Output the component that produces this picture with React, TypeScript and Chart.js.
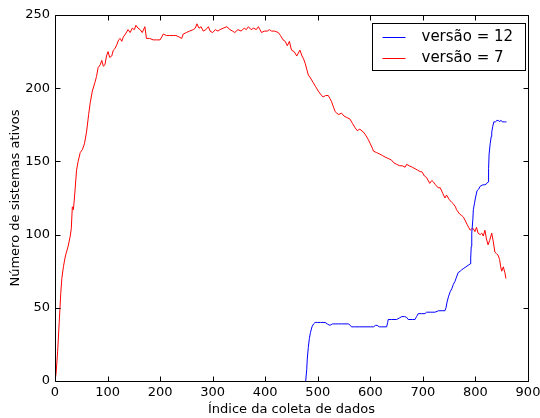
import React, { useEffect, useRef } from "react";
import { Chart, registerables } from "chart.js";

Chart.register(...registerables);

// versão = 7 (red)
const v7Index = [0, 2, 5, 8, 11, 13, 16, 19, 21, 25, 29, 31, 33, 35, 37, 41, 44, 48, 52, 56, 60, 64, 67, 71, 76, 79, 82, 86, 89, 92, 95, 98, 101, 104, 108, 111, 114, 118, 121, 124, 127, 130, 134, 139, 143, 147, 151, 154, 158, 162, 166, 171, 174, 180, 187, 193, 200, 203, 206, 212, 218, 225, 230, 236, 241, 244, 250, 256, 263, 267, 270, 274, 278, 282, 287, 292, 295, 300, 305, 310, 314, 320, 327, 333, 338, 342, 348, 354, 360, 364, 368, 373, 378, 383, 387, 390, 393, 398, 404, 408, 412, 418, 425, 429, 434, 438, 442, 446, 450, 455, 460, 463, 466, 470, 473, 476, 479, 482, 486, 491, 496, 501, 505, 510, 515, 520, 523, 526, 530, 533, 536, 540, 545, 550, 555, 561, 566, 571, 575, 580, 587, 591, 596, 600, 604, 606, 612, 618, 623, 628, 634, 640, 645, 650, 656, 661, 666, 669, 674, 680, 685, 690, 695, 698, 703, 707, 713, 717, 720, 724, 729, 733, 738, 742, 745, 750, 755, 758, 762, 764, 770, 774, 777, 780, 784, 787, 790, 793, 796, 799, 802, 805, 809, 812, 815, 818, 821, 824, 827, 831, 834, 837, 840, 843, 846, 848, 850, 853, 856, 858];
const v7Values = [0, 5, 20, 40, 60, 70, 78, 84, 87, 92, 99, 104, 119, 117, 125, 144, 150, 156, 158, 162, 170, 182, 190, 198, 204, 208, 214, 216, 219, 215, 216, 222, 225, 221, 222, 226, 227, 230, 233, 234, 232, 235, 237, 240, 238, 241, 240, 243, 241, 240, 238, 242, 234, 234, 233, 233, 233, 235, 237, 236, 236, 236, 236, 235, 234, 237, 238, 239, 240, 241, 244, 241, 242, 239, 240, 242, 239, 238, 240, 239, 240, 241, 242, 240, 239, 238, 240, 239, 241, 240, 242, 240, 241, 240, 242, 240, 238, 239, 239, 240, 239, 239, 238, 236, 233, 232, 229, 232, 226, 225, 222, 224, 226, 222, 220, 217, 213, 209, 207, 204, 201, 198, 196, 194, 195, 195, 193, 191, 187, 184, 183, 182, 183, 181, 180, 179, 176, 173, 171, 172, 170, 168, 165, 162, 159, 157, 156, 155, 154, 153, 152, 151, 149, 148, 147, 147, 146, 148, 147, 146, 145, 144, 143, 143, 140, 139, 135, 137, 136, 134, 132, 132, 128, 125, 127, 124, 122, 121, 119, 117, 114, 113, 112, 110, 107, 105, 103, 104, 104, 102, 105, 101, 100, 101, 99, 103, 97, 93, 96, 101, 95, 88, 87, 86, 83, 78, 75, 78, 74, 70];

// versão = 12 (blue)
const v12Index = [477, 479, 480, 482, 484, 486, 489, 492, 495, 500, 505, 510, 514, 518, 523, 528, 533, 540, 545, 550, 558, 562, 564, 570, 580, 590, 600, 606, 610, 613, 617, 622, 631, 633, 634, 640, 645, 650, 655, 660, 665, 669, 672, 680, 685, 688, 691, 697, 704, 707, 715, 723, 730, 738, 742, 744, 746, 749, 752, 755, 758, 761, 764, 767, 771, 774, 778, 782, 786, 790, 791, 792, 793, 795, 796, 798, 800, 803, 806, 809, 814, 818, 822, 824, 825, 826, 828, 830, 831, 833, 835, 838, 841, 844, 846, 848, 852, 855, 859];
const v12Values = [0, 8, 15, 23, 29, 33, 37, 39, 40, 40, 40, 40, 40, 39, 38, 39, 39, 39, 39, 39, 39, 38, 37, 37, 37, 37, 37, 37, 38, 38, 37, 37, 37, 40, 42, 42, 42, 42, 43, 44, 44, 43.5, 42, 42, 42, 44, 46, 46, 46, 47, 47, 47, 48, 48, 48, 50, 54, 58, 61, 63, 66, 68, 71, 74, 75, 76, 77, 78, 79, 80, 84, 92, 101, 110, 117, 121, 125, 130, 131, 133, 134, 134, 135, 136, 145, 155, 162, 167, 170, 174, 177, 177, 178, 178, 177, 178, 177, 177, 177];

const xTicks = [0, 100, 200, 300, 400, 500, 600, 700, 800, 900];
const yTicks = [0, 50, 100, 150, 200, 250];

const xTitle = "Índice da coleta de dados";
const yTitle = "Número de sistemas ativos";
const legendLabels = ["versão = 12", "versão = 7"];
const legendColors = ["#0000ff", "#ff0000"];

const FONT = "'DejaVu Sans', sans-serif";

const frameAndTicks = {
  id: "frameAndTicks",
  afterDraw(chart: any) {
    const { ctx, chartArea, scales } = chart;
    const { left, right, top, bottom } = chartArea;
    ctx.save();
    ctx.strokeStyle = "#000";
    ctx.lineWidth = 1;
    const L = Math.round(left) + 0.5;
    const R = Math.round(right) + 0.5;
    const T = Math.round(top) + 0.5;
    const B = Math.round(bottom) + 0.5;
    ctx.beginPath();
    ctx.rect(L, T, R - L, B - T);
    ctx.stroke();
    const tl = 5;
    ctx.beginPath();
    xTicks.forEach((v) => {
      const px = Math.round(scales.x.getPixelForValue(v)) + 0.5;
      ctx.moveTo(px, B);
      ctx.lineTo(px, B - tl);
      ctx.moveTo(px, T);
      ctx.lineTo(px, T + tl);
    });
    yTicks.forEach((v) => {
      const py = Math.round(scales.y.getPixelForValue(v)) + 0.5;
      ctx.moveTo(L, py);
      ctx.lineTo(L + tl, py);
      ctx.moveTo(R, py);
      ctx.lineTo(R - tl, py);
    });
    ctx.stroke();

    // legend
    const bx = Math.round(right) - 156 + 0.5;
    const by = Math.round(top) + 8 + 0.5;
    const bw = 153;
    const bh = 47;
    ctx.fillStyle = "#fff";
    ctx.fillRect(bx, by, bw, bh);
    ctx.strokeStyle = "#000";
    ctx.strokeRect(bx, by, bw, bh);
    ctx.font = `15px ${FONT}`;
    ctx.textBaseline = "middle";
    legendLabels.forEach((lab, i) => {
      const ly = Math.round(by + 13 + i * 21.5) + 0.5;
      ctx.strokeStyle = legendColors[i];
      ctx.beginPath();
      ctx.moveTo(bx + 10, ly);
      ctx.lineTo(bx + 33, ly);
      ctx.stroke();
      ctx.fillStyle = "#000";
      ctx.fillText(lab, bx + 49, ly);
    });
    ctx.restore();
  },
};

export default function App() {
  const ref = useRef<HTMLCanvasElement | null>(null);
  useEffect(() => {
    if (!ref.current) return;
    const chart = new Chart(ref.current, {
      type: "line",
      data: {
        datasets: [
          {
            label: legendLabels[0],
            data: v12Index.map((x, i) => ({ x, y: v12Values[i] })),
            borderColor: legendColors[0],
            borderWidth: 1,
            pointRadius: 0,
            fill: false,
            tension: 0,
          },
          {
            label: legendLabels[1],
            data: v7Index.map((x, i) => ({ x, y: v7Values[i] })),
            borderColor: legendColors[1],
            borderWidth: 1,
            pointRadius: 0,
            fill: false,
            tension: 0,
          },
        ],
      },
      options: {
        animation: false,
        responsive: true,
        maintainAspectRatio: false,
        layout: { padding: { left: 0, top: 15, right: 12, bottom: 0 } },
        plugins: { legend: { display: false }, tooltip: { enabled: false } },
        scales: {
          x: {
            type: "linear",
            min: 0,
            max: 900,
            afterFit: (s: any) => { s.height = 37; s.paddingLeft = 0; s.paddingRight = 0; },
            afterBuildTicks: (s: any) => { s.ticks = xTicks.map((v) => ({ value: v })); },
            grid: { display: false, drawTicks: false },
            border: { display: false },
            ticks: { color: "#000", font: { family: FONT, size: 13 }, padding: 4, maxRotation: 0 },
            title: { display: true, text: xTitle, color: "#000", font: { family: FONT, size: 13 }, padding: { top: 0, bottom: 1 } },
          },
          y: {
            type: "linear",
            min: 0,
            max: 250,
            afterFit: (s: any) => { s.width = 55; s.paddingTop = 0; s.paddingBottom = 0; },
            afterBuildTicks: (s: any) => { s.ticks = yTicks.map((v) => ({ value: v })); },
            grid: { display: false, drawTicks: false },
            border: { display: false },
            ticks: { color: "#000", font: { family: FONT, size: 13 }, padding: 5 },
            title: { display: true, text: yTitle, color: "#000", font: { family: FONT, size: 13 }, padding: { top: 8, bottom: 0 } },
          },
        },
      },
      plugins: [frameAndTicks],
    });
    return () => chart.destroy();
  }, []);
  return (
    <div style={{ position: "fixed", left: 0, top: 0, width: 540, height: 418, background: "#fff" }}>
      <canvas ref={ref} />
    </div>
  );
}
